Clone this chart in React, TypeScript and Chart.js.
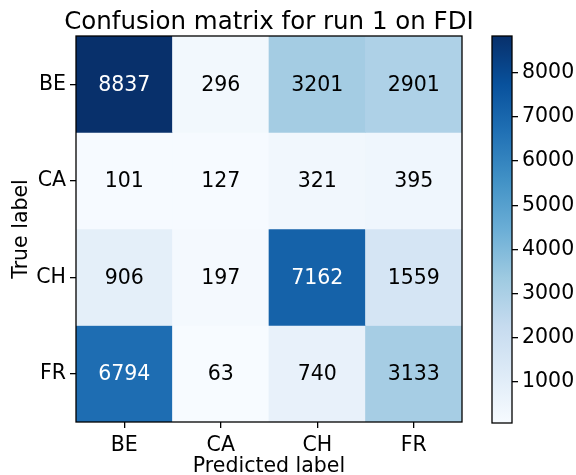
import React, { useEffect, useRef } from "react";
import { Chart, registerables } from "chart.js";

Chart.register(...registerables);

// ---- Data ----
const trueLabels = ["BE", "CA", "CH", "FR"];
const predLabels = ["BE", "CA", "CH", "FR"];
const rowBE = [8837, 296, 3201, 2901];
const rowCA = [101, 127, 321, 395];
const rowCH = [906, 197, 7162, 1559];
const rowFR = [6794, 63, 740, 3133];
const matrixRows = [rowBE, rowCA, rowCH, rowFR];
const colorbarTicks = [1000, 2000, 3000, 4000, 5000, 6000, 7000, 8000];
const titleText = "Confusion matrix for run 1 on FDI";
const xTitle = "Predicted label";
const yTitle = "True label";

// matplotlib "Blues" colormap control colours
const BLUES = ["#f7fbff", "#deebf7", "#c6dbef", "#9ecae1", "#6baed6", "#4292c6", "#2171b5", "#08519c", "#08306b"];

const FONT = "'DejaVu Sans', 'Liberation Sans', sans-serif";
const W = 576;
const H = 475;

function hexToRgb(h: string) {
  const n = parseInt(h.slice(1), 16);
  return [(n >> 16) & 255, (n >> 8) & 255, n & 255];
}

function blues(t: number) {
  const tt = Math.max(0, Math.min(1, t)) * (BLUES.length - 1);
  const i = Math.min(BLUES.length - 2, Math.floor(tt));
  const f = tt - i;
  const a = hexToRgb(BLUES[i]);
  const b = hexToRgb(BLUES[i + 1]);
  const c = a.map((v, k) => Math.round(v + (b[k] - v) * f));
  return `rgb(${c[0]},${c[1]},${c[2]})`;
}

const allVals = matrixRows.flat();
const vmin = Math.min(...allVals);
const vmax = Math.max(...allVals);
const thresh = vmax / 2;

const framePlugin = {
  id: "frame",
  afterDatasetsDraw(chart: any) {
    const a = chart.chartArea;
    const ctx = chart.ctx;
    ctx.save();
    ctx.strokeStyle = "#000";
    ctx.lineWidth = 1.3;
    ctx.strokeRect(a.left, a.top, a.right - a.left, a.bottom - a.top);
    ctx.restore();
  },
};

// Axes title centred over the plot area (like matplotlib's ax.set_title)
const axesTitlePlugin = {
  id: "axesTitle",
  afterDraw(chart: any) {
    const a = chart.chartArea;
    const ctx = chart.ctx;
    ctx.save();
    ctx.font = `24.5px ${FONT}`;
    ctx.fillStyle = "#000";
    ctx.textAlign = "center";
    ctx.textBaseline = "alphabetic";
    ctx.fillText(titleText, (a.left + a.right) / 2, a.top - 7);
    ctx.restore();
  },
};

const cellTextPlugin = {
  id: "cellText",
  afterDatasetsDraw(chart: any) {
    const ctx = chart.ctx;
    ctx.save();
    ctx.font = `20.5px ${FONT}`;
    ctx.textAlign = "center";
    ctx.textBaseline = "middle";
    chart.data.datasets.forEach((ds: any, r: number) => {
      const meta = chart.getDatasetMeta(r);
      meta.data.forEach((el: any, c: number) => {
        const v = matrixRows[r][c];
        const p = el.getProps(["x", "y", "base"], true);
        ctx.fillStyle = v > thresh ? "#ffffff" : "#000000";
        ctx.fillText(String(v), p.x, (p.y + p.base) / 2 + 1);
      });
    });
    ctx.restore();
  },
};

export default function App() {
  const mainRef = useRef<HTMLCanvasElement | null>(null);
  const cbRef = useRef<HTMLCanvasElement | null>(null);

  useEffect(() => {
    const main = new Chart(mainRef.current as HTMLCanvasElement, {
      type: "bar",
      data: {
        labels: predLabels,
        datasets: matrixRows.map((row, r) => ({
          label: trueLabels[r],
          data: row.map(() => [r, r + 1]) as any,
          backgroundColor: row.map((v) => blues((v - vmin) / (vmax - vmin))),
          borderWidth: 0,
          barPercentage: 1,
          categoryPercentage: 1,
          grouped: false,
        })),
      },
      options: {
        animation: false,
        responsive: false,
        devicePixelRatio: 1,
        layout: { padding: { left: 0, right: W - 462, top: 36, bottom: 0 } },
        plugins: {
          legend: { display: false },
          tooltip: { enabled: false },
          title: { display: false },
        },
        scales: {
          x: {
            type: "category",
            offset: true,
            grid: { offset: false, drawOnChartArea: false, drawTicks: true, tickLength: 6, color: "#000", lineWidth: 1.3 },
            border: { display: false },
            ticks: { color: "#000", font: { size: 20.5, family: FONT }, padding: 5, maxRotation: 0 },
            title: {
              display: true,
              text: xTitle,
              color: "#000",
              font: { size: 20.5, family: FONT, lineHeight: 0.8 },
              padding: { top: 0, bottom: 0 },
            },
            afterFit: (s: any) => {
              s.height = H - 422;
            },
          },
          y: {
            type: "linear",
            min: 0,
            max: trueLabels.length,
            reverse: true,
            grid: { drawOnChartArea: false, drawTicks: true, tickLength: 6, color: "#000", lineWidth: 1.3 },
            border: { display: false },
            afterBuildTicks: (s: any) => {
              s.ticks = trueLabels.map((_, i) => ({ value: i + 0.5 }));
            },
            ticks: {
              color: "#000",
              font: { size: 20.5, family: FONT },
              padding: 4,
              callback: (_v: any, i: number) => trueLabels[i],
            },
            title: { display: true, text: yTitle, color: "#000", font: { size: 20.5, family: FONT }, padding: { top: 9, bottom: 0 } },
            afterFit: (s: any) => {
              s.width = 76;
            },
          },
        },
      },
      plugins: [cellTextPlugin, framePlugin, axesTitlePlugin],
    });

    const cb = new Chart(cbRef.current as HTMLCanvasElement, {
      type: "bar",
      data: {
        labels: ["colorbar"],
        datasets: [
          {
            data: [[vmin, vmax]] as any,
            backgroundColor: (ctx: any) => {
              const chart = ctx.chart;
              const a = chart.chartArea;
              if (!a) return BLUES[0];
              const g = chart.ctx.createLinearGradient(0, a.bottom, 0, a.top);
              BLUES.forEach((c, i) => g.addColorStop(i / (BLUES.length - 1), c));
              return g;
            },
            borderWidth: 0,
            barPercentage: 1,
            categoryPercentage: 1,
          },
        ],
      },
      options: {
        animation: false,
        responsive: false,
        devicePixelRatio: 1,
        layout: { padding: { left: 12, right: 0, top: 36, bottom: H - 423 } },
        plugins: { legend: { display: false }, tooltip: { enabled: false }, title: { display: false } },
        scales: {
          x: { display: false },
          y: {
            type: "linear",
            position: "right",
            min: vmin,
            max: vmax,
            grid: { drawOnChartArea: false, drawTicks: true, tickLength: 6, color: "#000", lineWidth: 1.3 },
            border: { display: false },
            afterBuildTicks: (s: any) => {
              s.ticks = colorbarTicks.map((v) => ({ value: v }));
            },
            ticks: { color: "#000", font: { size: 20.5, family: FONT }, padding: 4, callback: (v: any) => String(v) },
            afterFit: (s: any) => {
              s.width = 96 - 32;
            },
          },
        },
      },
      plugins: [framePlugin],
    });

    return () => {
      main.destroy();
      cb.destroy();
    };
  }, []);

  return (
    <div style={{ position: "absolute", left: 0, top: 0, width: W, height: H, background: "#fff" }}>
      <canvas ref={mainRef} width={W} height={H} style={{ position: "absolute", left: 0, top: 0, display: "block" }} />
      <canvas ref={cbRef} width={96} height={H} style={{ position: "absolute", left: 480, top: 0, display: "block" }} />
    </div>
  );
}
